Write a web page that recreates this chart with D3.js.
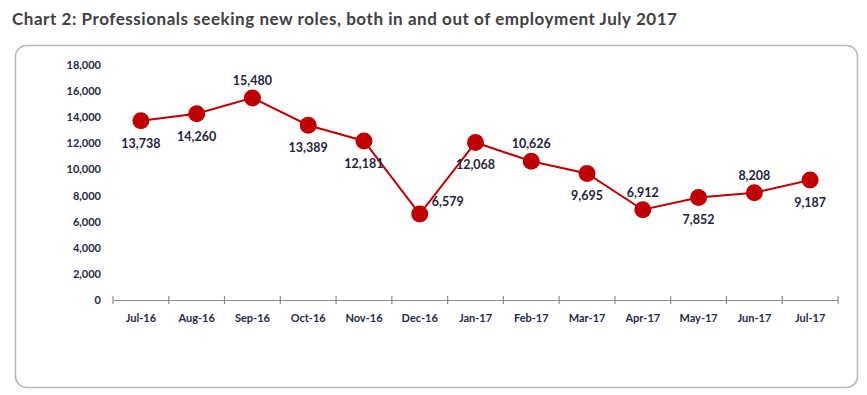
<!DOCTYPE html>
<html>
<head>
<meta charset="utf-8">
<script src="https://cdn.jsdelivr.net/npm/d3@7"></script>
<style>
  body { margin: 0; background: #fff; }
  text { font-family: Lato, "Open Sans", sans-serif; }
</style>
</head>
<body>
<svg id="chart" width="867" height="395"></svg>
<script>
// donnees du graphique
const months = ["Jul-16", "Aug-16", "Sep-16", "Oct-16", "Nov-16", "Dec-16", "Jan-17",
                "Feb-17", "Mar-17", "Apr-17", "May-17", "Jun-17", "Jul-17"];
const seekers = [13738, 14260, 15480, 13389, 12181, 6579, 12068, 10626, 9695, 6912, 7852, 8208, 9187];
// position de l'etiquette de chaque point
const labelPos = ["below", "below", "above", "below", "below", "right", "below",
                  "above", "below", "above", "below", "above", "below"];
const yTicks = [0, 2000, 4000, 6000, 8000, 10000, 12000, 14000, 16000, 18000];

const svg = d3.select("#chart");
const margin = { top: 65, right: 29, bottom: 95, left: 113 };
const width = 867 - margin.left - margin.right;
const height = 395 - margin.top - margin.bottom;

// cadre arrondi
svg.append("rect")
  .attr("x", 15.5).attr("y", 45.5)
  .attr("width", 842).attr("height", 342)
  .attr("rx", 11).attr("ry", 11)
  .attr("fill", "none")
  .attr("stroke", "#b8b8b8")
  .attr("stroke-width", 1.5);

// titre
svg.append("text")
  .attr("x", 12).attr("y", 25)
  .attr("font-size", 17)
  .attr("font-weight", "bold")
  .attr("fill", "#404040")
  .attr("textLength", 665)
  .text("Chart 2: Professionals seeking new roles, both in and out of employment July 2017");

const g = svg.append("g")
  .attr("transform", "translate(" + margin.left + "," + margin.top + ")");

const x = d3.scaleBand().domain(months).range([0, width]);
const y = d3.scaleLinear().domain([0, 18000]).range([height, 0]);

// axe des x
const xAxis = g.append("g")
  .attr("transform", "translate(0," + height + ")")
  .call(d3.axisBottom(x).tickSize(0).tickPadding(14));
xAxis.select(".domain").attr("stroke", "#8c8c8c").attr("stroke-width", 1.2);
xAxis.selectAll("text")
  .attr("font-size", 11).attr("font-weight", "bold").attr("fill", "#1f2a44");

// petits traits entre les categories
g.selectAll(".xtick")
  .data(d3.range(months.length + 1))
  .join("line")
  .attr("class", "xtick")
  .attr("x1", d => d * x.step()).attr("x2", d => d * x.step())
  .attr("y1", height - 4).attr("y2", height + 4)
  .attr("stroke", "#8c8c8c").attr("stroke-width", 1.2);

// axe des y (etiquettes seulement)
const yAxis = g.append("g")
  .call(d3.axisLeft(y).tickValues(yTicks).tickSize(0).tickPadding(12).tickFormat(d3.format(",")));
yAxis.select(".domain").remove();
yAxis.selectAll("text")
  .attr("font-size", 11).attr("font-weight", "bold").attr("fill", "#1f2a44");

const cx = (d, i) => x(months[i]) + x.bandwidth() / 2;

// ligne
const line = d3.line()
  .x((d, i) => cx(d, i))
  .y(d => y(d));

g.append("path")
  .datum(seekers)
  .attr("fill", "none")
  .attr("stroke", "#c00000")
  .attr("stroke-width", 2)
  .attr("d", line);

// points
g.selectAll(".dot")
  .data(seekers)
  .join("circle")
  .attr("class", "dot")
  .attr("cx", cx)
  .attr("cy", d => y(d))
  .attr("r", 8.5)
  .attr("fill", "#c00000");

// etiquettes des valeurs
g.selectAll(".val")
  .data(seekers)
  .join("text")
  .attr("class", "val")
  .attr("x", (d, i) => labelPos[i] === "right" ? cx(d, i) + 12 : cx(d, i))
  .attr("y", (d, i) => {
    if (labelPos[i] === "above") return y(d) - 13;
    if (labelPos[i] === "right") return y(d) - 8;
    return y(d) + 27;
  })
  .attr("text-anchor", (d, i) => labelPos[i] === "right" ? "start" : "middle")
  .attr("font-size", 12.5)
  .attr("font-weight", "bold")
  .attr("fill", "#1f2440")
  .text(d => d3.format(",")(d));
</script>
</body>
</html>
